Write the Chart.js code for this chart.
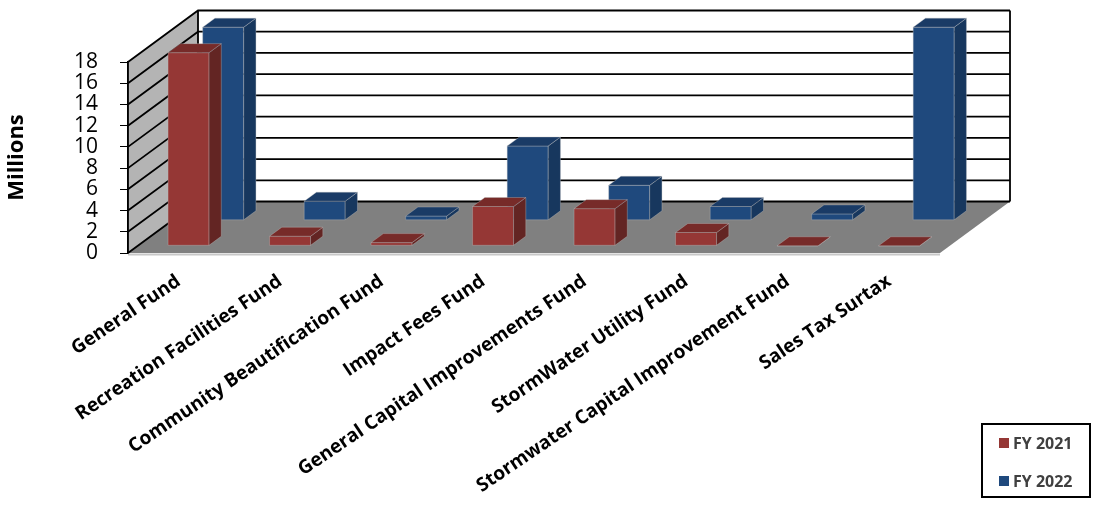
<!DOCTYPE html>
<html lang="en">
<head>
<meta charset="UTF-8">
<title>Funds by fiscal year</title>
<script src="https://cdn.jsdelivr.net/npm/chart.js"></script>
<style>
  html, body { margin: 0; padding: 0; background: #fff; }
</style>
</head>
<body>
<canvas id="fundsChart" width="1095" height="508"></canvas>
<script>
// data (millions)
const funds = ['General Fund', 'Recreation Facilities Fund', 'Community Beautification Fund', 'Impact Fees Fund',
               'General Capital Improvements Fund', 'StormWater Utility Fund', 'Stormwater Capital Improvement Fund', 'Sales Tax Surtax'];
const fy2021 = [18.2, 0.9, 0.3, 3.7, 3.5, 1.25, 0, 0];
const fy2022 = [18.2, 1.8, 0.4, 7.0, 3.3, 1.3, 0.6, 18.2];
const yTicks = [0, 2, 4, 6, 8, 10, 12, 14, 16, 18];

// 3d look
const DX = 70, DY = -51.5;      // full depth of the room
const rowZ = [0.14, 0.635];     // where each series row sits in depth
const barDepth = 0.175;
const faces = [
  { front: '#953735', side: '#632523', top: '#772b29' },
  { front: '#1f497d', side: '#17375e', top: '#1a3b66' }
];

function poly(ctx, pts, fill) {
  ctx.beginPath();
  ctx.moveTo(pts[0][0], pts[0][1]);
  for (let i = 1; i < pts.length; i++) ctx.lineTo(pts[i][0], pts[i][1]);
  ctx.closePath();
  ctx.fillStyle = fill;
  ctx.fill();
  ctx.stroke();
}

function box(ctx, x0, x1, yTop, yBase, z, c) {
  const fx = z * DX, fy = z * DY;
  const bx = (z + barDepth) * DX, by = (z + barDepth) * DY;
  const l = x0 + fx, r = x1 + fx, t = yTop + fy, b = yBase + fy;
  ctx.strokeStyle = 'rgba(190,190,190,0.45)';
  ctx.lineWidth = 0.8;
  poly(ctx, [[l, t], [r, t], [r, b], [l, b]], c.front);
  poly(ctx, [[r, t], [x1 + bx, yTop + by], [x1 + bx, yBase + by], [r, b]], c.side);
  poly(ctx, [[l, t], [x0 + bx, yTop + by], [x1 + bx, yTop + by], [r, t]], c.top);
}

const room3d = {
  id: 'room3d',
  beforeDraw(chart) {
    const { ctx, chartArea: a, scales: { y } } = chart;
    ctx.save();
    ctx.strokeStyle = 'rgba(0,0,0,0)';
    // back wall
    ctx.fillStyle = '#fff';
    ctx.fillRect(a.left + DX, a.top + DY, a.right - a.left, a.bottom - a.top);
    // left wall
    poly(ctx, [[a.left, a.top], [a.left + DX, a.top + DY], [a.left + DX, a.bottom + DY], [a.left, a.bottom]], '#b4b4b4');
    // floor
    poly(ctx, [[a.left, a.bottom], [a.left + DX, a.bottom + DY], [a.right + DX, a.bottom + DY], [a.right, a.bottom]], '#808080');
    ctx.strokeStyle = '#c8c8c8';
    ctx.lineWidth = 2;
    ctx.beginPath();
    ctx.moveTo(a.left, a.bottom + 1.5);
    ctx.lineTo(a.right, a.bottom + 1.5);
    ctx.stroke();

    // grid lines on both walls
    ctx.strokeStyle = '#000';
    ctx.lineWidth = 1.8;
    y.ticks.forEach(t => {
      const py = y.getPixelForValue(t.value);
      ctx.beginPath();
      ctx.moveTo(a.left, py);
      ctx.lineTo(a.left + DX, py + DY);
      ctx.lineTo(a.right + DX, py + DY);
      ctx.stroke();
    });
    // wall edges
    ctx.beginPath();
    ctx.moveTo(a.left + DX, a.bottom + DY);
    ctx.lineTo(a.left + DX, a.top + DY);
    ctx.moveTo(a.right + DX, a.top + DY);
    ctx.lineTo(a.right + DX, a.bottom + DY);
    ctx.stroke();
    ctx.restore();
  },
  beforeDatasetsDraw(chart) {
    const ctx = chart.ctx;
    ctx.save();
    [1, 0].forEach(di => {
      chart.getDatasetMeta(di).data.forEach(el => {
        const p = el.getProps(['x', 'y', 'base', 'width'], true);
        box(ctx, p.x - p.width / 2, p.x + p.width / 2, p.y, p.base, rowZ[di], faces[di]);
      });
    });
    // front edge of the left wall
    const a = chart.chartArea;
    ctx.strokeStyle = '#000';
    ctx.lineWidth = 1.5;
    ctx.beginPath();
    ctx.moveTo(a.left, a.top);
    ctx.lineTo(a.left, a.bottom);
    ctx.stroke();
    ctx.restore();
    return false;
  },
  afterDraw(chart) {
    const ctx = chart.ctx;
    ctx.save();
    ctx.strokeStyle = '#000';
    ctx.lineWidth = 2;
    ctx.strokeRect(982, 424, 108, 73);
    ctx.font = 'bold 16px "Open Sans"';
    ctx.textBaseline = 'middle';
    chart.data.datasets.forEach((ds, i) => {
      const cy = 443 + i * 38;
      ctx.fillStyle = ds.backgroundColor;
      ctx.fillRect(999, cy - 5, 10, 10);
      ctx.fillStyle = '#404040';
      ctx.fillText(ds.label, 1013, cy + 1);
    });
    ctx.restore();
  }
};

new Chart(document.getElementById('fundsChart'), {
  type: 'bar',
  data: {
    labels: funds,
    datasets: [
      { label: 'FY 2021', data: fy2021, backgroundColor: faces[0].front, barThickness: 41, grouped: false },
      { label: 'FY 2022', data: fy2022, backgroundColor: faces[1].front, barThickness: 41, grouped: false }
    ]
  },
  options: {
    responsive: false,
    animation: false,
    layout: { padding: { top: 62, right: 155, bottom: 0, left: 0 } },
    plugins: { legend: { display: false }, tooltip: { enabled: false } },
    scales: {
      x: {
        offset: true,
        grid: { display: false },
        border: { display: false },
        ticks: {
          autoSkip: false, maxRotation: 34, minRotation: 34, padding: 9, color: '#000',
          font: { family: 'Open Sans', weight: 'bold', size: 19 }
        },
        afterFit: s => { s.height = 255; }
      },
      y: {
        min: 0, max: 18,
        afterBuildTicks: s => { s.ticks = yTicks.map(v => ({ value: v })); },
        grid: { drawOnChartArea: false, color: '#000', tickLength: 8 },
        border: { color: '#000', width: 1.5 },
        ticks: { autoSkip: false, padding: 22, color: '#000', font: { family: 'Open Sans', size: 21 } },
        title: {
          display: true, text: 'Millions', color: '#000',
          font: { family: 'Open Sans', weight: 'bold', size: 22 }, padding: { top: 4, bottom: 0 }
        },
        afterFit: s => { s.width = 128; }
      }
    }
  },
  plugins: [room3d]
});
</script>
</body>
</html>
